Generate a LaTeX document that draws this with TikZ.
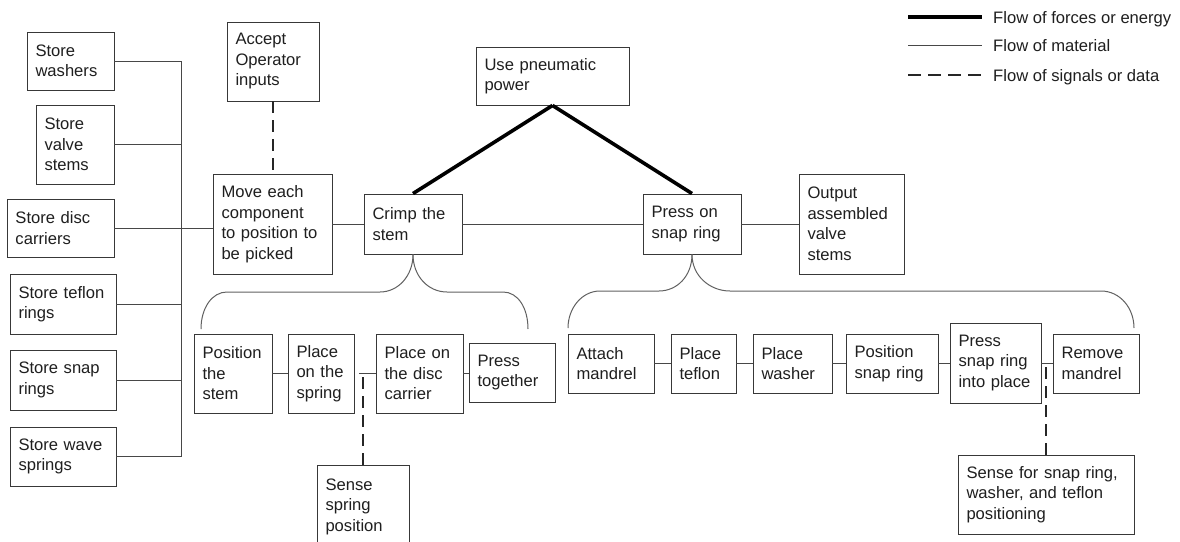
\documentclass[tikz,border=0pt]{standalone}
\usepackage{fontspec}
\setmainfont{Liberation Sans}
\tikzset{
  bx/.style={draw=black!78, line width=0.9pt, rectangle, align=left,
    inner xsep=8.5pt, inner ysep=0pt, text=black!88,
    font=\fontsize{16.6}{20.5}\selectfont},
  material/.style={draw=black!72, line width=1pt},
  energy/.style={draw=black, line width=3.6pt},
  signal/.style={draw=black!85, line width=1.7pt, dash pattern=on 12pt off 7pt},
  brace/.style={draw=black!62, line width=1pt},
  legtext/.style={anchor=base west, inner sep=0pt, text=black!88,
    font=\fontsize{16.6}{20.5}\selectfont}
}
\begin{document}
\begin{tikzpicture}[x=1pt, y=-1pt]
\useasboundingbox (0,0) rectangle (1180,541);
\fill[white] (0,0) rectangle (1180,541);

% store boxes
\node[bx, minimum width=87pt, minimum height=58pt, text width=70pt] (washers) at (70.5,61) {Store\\washers};
\node[bx, minimum width=78pt, minimum height=79pt, text width=61pt] (valve) at (75,144.5) {Store\\valve\\stems};
\node[bx, minimum width=107pt, minimum height=58pt, text width=90pt] (disc) at (60.5,228) {Store disc\\carriers};
\node[bx, minimum width=106pt, minimum height=60pt, text width=89pt] (teflonR) at (63,304) {Store teflon\\rings};
\node[bx, minimum width=106pt, minimum height=60pt, text width=89pt] (snapR) at (63,380) {Store snap\\rings};
\node[bx, minimum width=106pt, minimum height=59pt, text width=89pt] (wave) at (63,456.5) {Store wave\\springs};

% main row
\node[bx, minimum width=92pt, minimum height=79pt, text width=75pt] (accept) at (273,61.5) {Accept\\Operator\\inputs};
\node[bx, minimum width=119pt, minimum height=100pt, text width=102pt] (move) at (272.5,224) {Move each\\component\\to position to\\be picked};
\node[bx, minimum width=153pt, minimum height=58pt, text width=136pt] (pneu) at (552.5,76) {Use pneumatic\\power};
\node[bx, minimum width=98pt, minimum height=60pt, text width=81pt] (crimp) at (413,224) {Crimp the\\stem};
\node[bx, minimum width=98pt, minimum height=60pt, text width=81pt] (press) at (692,224) {Press on\\snap ring};
\node[bx, minimum width=105pt, minimum height=100pt, text width=88pt] (output) at (851.5,224) {Output\\assembled\\valve\\stems};

% crimp sub-functions
\node[bx, minimum width=78pt, minimum height=79pt, text width=61pt] (posstem) at (233,373.5) {Position\\the\\stem};
\node[bx, minimum width=66pt, minimum height=79pt, text width=49pt] (spring) at (321,373.5) {Place\\on the\\spring};
\node[bx, minimum width=87pt, minimum height=79pt, text width=70pt] (discc) at (419.5,373.5) {Place on\\the disc\\carrier};
\node[bx, minimum width=86pt, minimum height=59pt, text width=69pt] (together) at (512,372.5) {Press\\together};
\node[bx, minimum width=92pt, minimum height=83pt, text width=75pt] (sense1) at (363,506.5) {Sense\\spring\\position};

% snap ring sub-functions
\node[bx, minimum width=86pt, minimum height=59pt, text width=69pt] (attach) at (611,363.5) {Attach\\mandrel};
\node[bx, minimum width=65pt, minimum height=59pt, text width=48pt] (pteflon) at (703.5,363.5) {Place\\teflon};
\node[bx, minimum width=79pt, minimum height=59pt, text width=62pt] (pwasher) at (792.5,363.5) {Place\\washer};
\node[bx, minimum width=92pt, minimum height=59pt, text width=75pt] (possnap) at (892,363.5) {Position\\snap ring};
\node[bx, minimum width=91pt, minimum height=80pt, text width=74pt] (pressinto) at (995.5,363) {Press\\snap ring\\into place};
\node[bx, minimum width=86pt, minimum height=59pt, text width=69pt] (remove) at (1096,363.5) {Remove\\mandrel};
\node[bx, minimum width=176pt, minimum height=79pt, text width=159pt] (sense2) at (1046,494.5) {Sense for snap ring,\\washer, and teflon\\positioning};

% bus from the stores
\coordinate (busT) at (181,61);
\coordinate (busB) at (181,456.5);
\draw[material] (busT) -- (busB);
\draw[material] (washers.east) -- (washers.east -| busT);
\draw[material] (valve.east) -- (valve.east -| busT);
\draw[material] (teflonR.east) -- (teflonR.east -| busT);
\draw[material] (snapR.east) -- (snapR.east -| busT);
\draw[material] (wave.east) -- (wave.east -| busT);
\draw[material] (disc.east) -- (disc.east -| move.west);

% main flow
\draw[material] (move.east) -- (crimp.west);
\draw[material] (crimp.east) -- (press.west);
\draw[material] (press.east) -- (output.west);
\draw[signal] (accept.south) -- (accept.south |- move.north);
\draw[energy] (pneu.south) -- (crimp.north);
\draw[energy] (pneu.south) -- (press.north);

% crimp row
\coordinate (sj) at (359,373.5);
\draw[material] (posstem.east) -- (spring.west);
\draw[material] (sj) -- (discc.west);
\draw[material] (discc.east) -- (discc.east -| together.west);
\draw[signal] (sense1.north) -- (sense1.north |- discc.west);

% snap ring row
\draw[material] (attach.east) -- (pteflon.west);
\draw[material] (pteflon.east) -- (pwasher.west);
\draw[material] (pwasher.east) -- (possnap.west);
\draw[material] (possnap.east) -- (possnap.east -| pressinto.west);
\draw[material] (pressinto.east) -- (pressinto.east -| remove.west);
\draw[signal] (sense2.north) -- (sense2.north |- remove.west);

% braces
\coordinate (b1L) at (201,329);
\coordinate (b1R) at (528,329);
\coordinate (b2L) at (568,328);
\coordinate (b2R) at (1134,328);
\draw[brace] (crimp.south) .. controls (413,276) and (398,292) .. (380,292) -- (227,292) .. controls (212,292) and (201,308) .. (b1L);
\draw[brace] (crimp.south) .. controls (413,276) and (428,292) .. (447,292) -- (503,292) .. controls (518,292) and (528,308) .. (b1R);
\draw[brace] (press.south) .. controls (692,276) and (677,291) .. (659,291) -- (600,291) .. controls (582,291) and (568,308) .. (b2L);
\draw[brace] (press.south) .. controls (692,276) and (710,291) .. (730,291) -- (1101,291) .. controls (1120,291) and (1134,308) .. (b2R);

% legend
\coordinate (l1a) at (908,17);  \coordinate (l1b) at (982,17);
\coordinate (l2a) at (908,45);  \coordinate (l2b) at (982,45);
\coordinate (l3a) at (908,75);  \coordinate (l3b) at (982,75);
\draw[energy, line width=3.2pt] (l1a) -- (l1b);
\draw[material, line width=0.9pt] (l2a) -- (l2b);
\draw[signal, dash pattern=on 13pt off 7pt] (l3a) -- (l3b);
\node[legtext] (t1) at (993,23) {Flow of forces or energy};
\node[legtext] (t2) at (993,51) {Flow of material};
\node[legtext] (t3) at (993,81) {Flow of signals or data};
\end{tikzpicture}
\end{document}
